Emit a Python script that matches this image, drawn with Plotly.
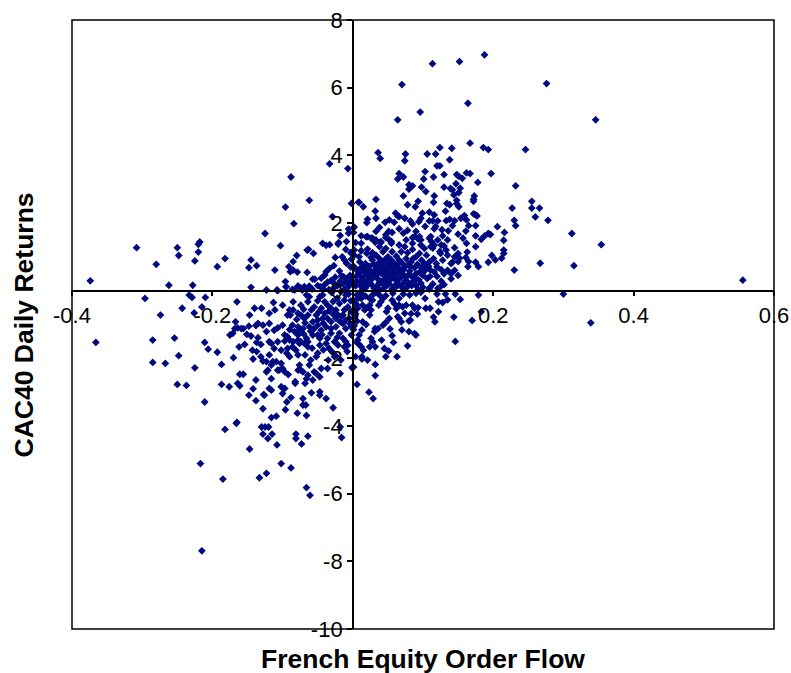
import plotly.graph_objects as go

x_label = "French Equity Order Flow"
y_label = "CAC40 Daily Returns"
x_ticks = [-0.4, -0.2, 0, 0.2, 0.4, 0.6]
y_ticks = [-10, -8, -6, -4, -2, 0, 2, 4, 6, 8]

upper_left = [(-.374,.29),(-.308,1.27),(-.28,.78),(-.262,.16),(-.25,1.27),(-.248,1.04),(-.228,.16),(-.225,.88),(-.22,1.14),(-.22,1.37),(-.218,1.44),(-.193,.71),(-.182,.95),(-.148,.68),(-.145,.91),(-.137,.74),(-.145,.10),(-.125,1.69),(-.123,.02),(-.111,.61),(-.107,0),(-.103,1.33),(-.096,2.47),(-.088,3.36),(-.084,1.98),(-.08,1.04),(-.091,.71),(-.085,.86),(-.089,.56),(-.085,.61),(-.079,.55),(-.096,.27),(-.095,.12),(-.065,.54),(-.062,2.67),(-.033,3.75),(-.007,3.61),(-.002,2.58),(.008,2.61),(-.029,2.19),(-.006,1.82),(-.006,1.7),(-.018,1.63),(-.043,1.4),(-.038,1.34),(-.033,1.36),(-.02,1.42),(-.021,1.38),(-.009,1.45),(-.01,1.22),(-.063,1.22),(-.065,1.2),(-.056,1.1),(-.025,.98),(-.015,1.0),(-.012,.91),(-.009,.81),(-.027,.74),(-.033,.66),(-.038,.56),(-.04,.46),(-.045,.37),(-.019,.58),(-.013,.41),(-.057,.34),(-.054,.34),(-.078,.14),(-.074,.08),(-.069,.12),(-.062,.13),(-.058,.05),(-.05,.15),(-.046,.11),(-.04,.18),(-.036,.25),(-.031,.3),(-.027,.22),(-.022,.14),(-.018,.28),(-.014,.2),(-.01,.36),(-.006,.12),(-.004,.45),(-.003,.7),(-.002,.93),(-.003,1.12),(-.028,.06),(-.034,.03),(-.012,.03),(-.009,.24),(-.016,.44),(-.025,.4),(-.001,.22),(-.002,.3),(-.086,.04),(-.072,.02),(-.066,.05),(-.042,.05)]

upper_right = [(.1876,6.97),(.152,6.77),(.1135,6.71),(.07,6.09),(.276,6.12),(.164,5.54),(.096,5.28),(.064,5.05),(.346,5.05),(.167,4.36),(.186,4.23),(.193,4.17),(.246,4.17),(.124,4.23),(.141,4.21),(.106,4.04),(.118,4.04),(.075,4.04),(.036,4.08),(.039,3.91),(.074,3.84),(.138,3.87),(.12,3.69),(.124,3.69),(.103,3.52),(.066,3.46),(.072,3.36),(.064,3.3),(.115,3.36),(.101,3.3),(.13,3.43),(.148,3.43),(.151,3.38),(.156,3.32),(.162,3.48),(.167,3.46),(.197,3.46),(.178,3.2),(.232,3.1),(.147,3.16),(.08,3.13),(.085,3.1),(.08,3.0),(.098,3.06),(.104,2.93),(.13,3.06),(.139,3.02),(.142,2.98),(.153,3.03),(.151,2.9),(.144,2.83),(.072,2.8),(.116,2.8),(.173,2.8),(.172,2.7),(.172,2.64),(.033,2.7),(.009,2.61),(.015,2.48),(.078,2.54),(.089,2.48),(.093,2.64),(.115,2.61),(.134,2.58),(.138,2.54),(.148,2.67),(.148,2.57),(.151,2.48),(.227,2.44),(.255,2.64),(.255,2.44),(.266,2.44),(.26,2.18),(.278,2.08),(.23,2.08),(.232,1.92),(.312,1.69),(.354,1.36),(.267,.81),(.315,.74),(.23,.61),(.206,1.89),(.216,1.72),(.215,1.49),(.215,1.2),(.215,1.1),(.212,.96),(.203,.91),(.198,1.04),(.193,.84),(.196,1.66),(.193,1.69),(.188,1.62),(.183,1.52),(.175,1.92),(.175,2.24),(.172,2.27),(.177,2.21),(.161,1.76),(.157,1.55),(.162,1.4),(.175,1.62),(.175,1.3),(.163,1.14),(.161,.98),(.165,.86),(.164,.71),(.175,.84),(.179,.71),(.15,1.67),(.165,1.92),(.162,2.09),(.159,2.22),(.154,2.14),(.142,1.92),(.145,2.07),(.138,2.11),(.133,2.07),(.132,2.35),(.136,1.77),(.127,1.8),(.128,1.62),(.135,1.5),(.145,1.27),(.15,1.1),(.145,1),(.152,.96),(.15,.86),(.142,.84),(.118,1.9),(.116,1.83),(.103,1.9),(.109,2.06),(.114,2.06),(.121,2.06),(.116,2.24),(.109,2.32),(.099,2.29),(.097,2.14),(.094,2.04),(.082,2.06),(.085,1.97),(.074,2.14),(.066,2.19),(.061,2.29),(.064,2.21),(.059,2.02),(.052,2.09),(.046,2.02),(.033,2.14),(.032,2.35),(.021,2.11),(.02,2.01),(.038,1.87),(.033,1.75),(.066,1.83),(.078,1.78),(.072,1.7),(.09,1.75),(.095,1.6),(.088,1.6),(.056,1.72),(.051,1.75),(.047,1.65),(.012,1.62),(.021,1.6),(.028,1.55),(.032,1.43),(.04,1.42),(.052,1.5),(.055,1.4),(.076,1.5),(.085,1.4),(.097,1.5),(.109,1.55),(.112,1.45),(.116,1.35),(.13,1.32),(.133,1.2),(.124,1.16),(.114,1.26),(.5556,.31)]

dense_right = [(.012,1.4),(.019,1.59),(.026,1.55),(.033,1.5),(.04,1.45),(.047,1.57),(.055,1.45),(.085,1.57),(.093,1.53),(.111,1.6),(.121,1.5),(.002,1.05),(.009,1.0),(.021,1.23),(.028,.9),(.038,1.3),(.043,1.15),(.047,1.25),(.066,1.35),(.074,1.3),(.069,1.15),(.097,1.35),(.102,1.25),(.111,1.3),(.126,1.35),(.033,1.05),(.038,.95),(.043,.85),(.036,.8),(.05,1.0),(.055,.9),(.059,.8),(.066,.9),(.076,.95),(.083,.85),(.09,1.0),(.095,1.1),(.102,.8),(.109,.85),(.119,.8),(.128,.9),(.002,.7),(.009,.62),(.016,.55),(.024,.72),(.031,.6),(.038,.7),(.045,.62),(.052,.73),(.059,.55),(.066,.65),(.074,.7),(.081,.58),(.088,.68),(.095,.55),(.104,.65),(.116,.55),(.126,.62),(.005,.42),(.012,.3),(.019,.45),(.026,.32),(.033,.44),(.04,.28),(.047,.4),(.055,.46),(.062,.3),(.069,.42),(.076,.3),(.083,.44),(.09,.34),(.097,.22),(.106,.36),(.114,.2),(.126,.28),(.004,.14),(.014,.05),(.021,.17),(.03,.08),(.038,.02),(.048,.14),(.056,.05),(.065,.17),(.075,.06),(.084,.15),(.093,.04),(.03,.5),(.04,.52),(.05,.5),(.06,.48),(.035,.36),(.045,.32),(.055,.36),(.07,.55),(.08,.48),(.025,.58),(.03,.78),(.04,.82),(.05,.78),(.06,.7),(.07,.82),(.015,.3),(.02,.25),(.01,.17),(.005,.28),(.018,.08),(.035,.15),(.042,.22),(.052,.2),(.06,.15),(.072,.22),(.08,.16),(.1,.45),(.09,.5),(.11,.42),(.12,.42),(.13,.5),(.135,.6),(.14,.5),(.12,.7),(.115,.95),(.125,1.1),(.135,1.05),(.14,.8),(.145,.6),(.15,.45),(.14,.35),(.13,.18),(.125,.12),(.11,.1),(.1,.1),(.09,.15),(.002,1.88),(.001,1.72),(.004,1.42),(.002,1.2),(.012,1.18),(.02,1.1),(.028,1.12),(.01,.85),(.018,.8),(.078,1.12),(.062,1.02),(.085,1.22),(.105,1.05),(.056,1.15),(.026,.98),(.014,.72),(.046,.92),(.072,.46),(.086,.28),(.102,.58),(.028,.42),(.036,.56),(.044,.46),(.052,.58),(.058,.4),(.064,.52),(.076,.4),(.082,.72),(.034,.66),(.048,.7),(.056,.62),(.064,.78),(.072,.62),(.08,.8),(.092,.78),(.098,.68),(.024,.36),(.038,.24),(.05,.28),(.066,.34),(.078,.24),(.088,.4),(.094,.32),(.016,.15),(.026,.2),(.044,.08),(.06,.08),(.07,.1),(.008,.5),(.012,.4),(.006,.6),(.018,.62),(.022,.5),(.042,.72),(.054,.82),(.086,.95),(.098,.9),(.108,.72),(.11,.62)]

lower_right = [(.30,-.10),(.339,-.95),(.146,-.10),(.153,-.26),(.179,-.13),(.183,-.62),(.17,-.88),(.144,-.78),(.146,-1.5),(.132,-.10),(.12,-.1),(.121,.07),(.135,-.27),(.128,-.35),(.122,-.33),(.122,-.62),(.115,-.78),(.117,-.92),(.103,-.23),(.093,-.5),(.104,-.52),(.11,-.52),(.092,-.69),(.083,-.68),(.082,-.87),(.08,-.9),(.07,-1.16),(.08,-1.21),(.088,-1.27),(.09,-1.31),(.078,-1.63),(.063,-1.95),(.047,-1.95),(.051,-1.78),(.045,-1.71),(.058,-1.53),(.056,-1.33),(.053,-1.13),(.041,-1.46),(.032,-1.12),(.036,-1.12),(.031,-1.21),(.043,-1.02),(.047,-.94),(.026,-1.41),(.028,-1.51),(.032,-1.66),(.024,-1.66),(.015,-1.76),(.013,-1.95),(.013,-2.02),(.004,-1.95),(.021,-2.05),(.032,-2.18),(.032,-2.51),(.001,-2.26),(-.001,-2.28),(.006,-2.77),(.023,-3.0),(.029,-3.19),(.009,-1.31),(.007,-1.46),(.009,-1.59),(.012,-1.66),(.006,-1.53),(.002,-1.04),(.014,-.92),(.013,-1.16),(.019,-1.0),(.066,-.82),(.069,-.92),(.064,-.77),(.074,-.67),(.052,-.82),(.062,-.53),(.071,-.48),(.05,-.52),(.048,-.62),(.076,-.43),(.085,-.43),(.088,-.52),(.066,-.23),(.056,-.28),(.04,-.33),(.028,-.28),(.024,-.23),(.014,-.43),(.012,-.23),(.024,-.72),(.017,-.57),(.007,-.52),(.002,-.57),(.047,-.15),(.038,-.13),(.057,-.08),(.081,-.13),(.09,-.08),(.097,-.05),(.109,.05),(.026,-.57),(.019,-.52),(.024,-.43),(.037,-.43),(.043,-.23),(.028,-.13),(.066,-.43),(.059,-.38),(.006,-.12),(.012,-.08),(.018,-.16),(.033,-.06),(.072,-.1),(.002,-.3),(.005,-.4),(.008,-.22),(.003,-.75),(.006,-.9),(.001,-1.15),(.004,-.68)]

lower_left = [(-.366,-1.53),(-.296,-.23),(-.274,-.72),(-.285,-1.46),(-.254,-1.4),(-.285,-2.12),(-.267,-2.15),(-.248,-1.92),(-.225,-2.28),(-.25,-2.77),(-.237,-2.8),(-.243,-.52),(-.233,-.13),(-.229,-.2),(-.21,-.2),(-.226,-.66),(-.215,-.48),(-.211,-1.53),(-.206,-1.73),(-.193,-1.82),(-.187,-2.18),(-.17,-1.98),(-.187,-2.77),(-.176,-2.84),(-.211,-3.29),(-.165,-.33),(-.167,-.92),(-.14,-.52),(-.13,-.52),(-.147,-.72),(-.168,-1.12),(-.164,-1.1),(-.159,-1.12),(-.156,-1.12),(-.171,-1.26),(-.175,-1.31),(-.148,-1.05),(-.138,-1.03),(-.135,-.97),(-.128,-1.02),(-.151,-1.29),(-.145,-1.34),(-.154,-1.59),(-.162,-1.66),(-.135,-1.39),(-.137,-1.53),(-.131,-1.59),(-.143,-1.76),(-.137,-1.8),(-.131,-1.95),(-.142,-2.02),(-.128,-2.08),(-.161,-2.47),(-.156,-2.47),(-.164,-2.74),(-.161,-2.81),(-.138,-2.64),(-.142,-2.9),(-.148,-3.09),(-.138,-3.25),(-.127,-3.07),(-.128,-3.49),(-.116,-3.75),(-.109,-3.71),(-.096,-3.52),(-.094,-3.29),(-.079,-3.62),(-.066,-3.69),(-.071,-3.38),(-.067,-3.38),(-.028,-3.46),(-.018,-4.03),(-.016,-4.34),(-.166,-3.92),(-.165,-3.89),(-.182,-4.1),(-.13,-4.03),(-.125,-4.03),(-.12,-4.03),(-.128,-4.24),(-.115,-4.24),(-.121,-4.37),(-.108,-4.56),(-.081,-4.24),(-.081,-4.37),(-.064,-4.3),(-.073,-4.53),(-.147,-4.68),(-.217,-5.11),(-.185,-5.57),(-.133,-5.53),(-.123,-5.4),(-.102,-5.11),(-.088,-5.24),(-.066,-5.82),(-.061,-6.05),(-.215,-7.69),(-.017,-2.05),(-.018,-2.45),(0,-2.25),(-.024,-1.93)]

dense_left = [(-.108,.02),(-.083,.02),(-.095,.11),(-.113,-.35),(-.1,-.43),(-.085,-.33),(-.111,-.57),(-.119,-.67),(-.066,-.13),(-.062,-.18),(-.064,-.33),(-.09,-.57),(-.085,-.57),(-.089,-.72),(-.093,-.72),(-.074,-.43),(-.078,-.67),(-.074,-.72),(-.055,-.48),(-.059,-.57),(-.064,-.72),(-.069,-.82),(-.052,-.72),(-.047,-.18),(-.043,-.13),(-.04,-.33),(-.036,-.43),(-.045,-.52),(-.031,-.52),(-.024,-.57),(-.019,-.38),(-.012,-.28),(-.01,-.13),(-.017,-.03),(-.04,-.67),(-.043,-.82),(-.05,-.87),(-.057,-.92),(-.036,-.82),(-.031,-.92),(-.024,-.82),(-.021,-.72),(-.014,-.72),(-.01,-.87),(-.005,-.82),(-.012,-.57),(-.119,-.97),(-.1,-1.02),(-.107,-1.1),(-.112,-1.17),(-.123,-1.21),(-.078,-1.07),(-.071,-1.12),(-.083,-1.21),(-.076,-1.17),(-.062,-1.07),(-.055,-1.12),(-.05,-1.02),(-.045,-1.17),(-.038,-1.07),(-.031,-1.12),(-.024,-1.07),(-.019,-1.26),(-.01,-1.12),(-.014,-.97),(-.002,-1.07),(-.002,-1.31),(-.097,-1.31),(-.093,-1.36),(-.09,-1.46),(-.097,-1.49),(-.085,-1.51),(-.078,-1.46),(-.074,-1.51),(-.078,-1.31),(-.066,-1.41),(-.057,-1.31),(-.05,-1.31),(-.047,-1.41),(-.036,-1.41),(-.031,-1.26),(-.026,-1.51),(-.014,-1.41),(-.01,-1.51),(-.119,-1.51),(-.116,-1.56),(-.107,-1.51),(-.112,-1.71),(-.102,-1.76),(-.093,-1.71),(-.094,-1.85),(-.09,-1.95),(-.078,-1.9),(-.081,-1.76),(-.076,-1.56),(-.069,-1.56),(-.064,-1.66),(-.064,-1.51),(-.05,-1.85),(-.052,-1.95),(-.047,-1.61),(-.038,-1.56),(-.021,-1.61),(-.012,-1.66),(-.007,-1.61),(-.119,-1.9),(-.123,-2.1),(-.114,-2.1),(-.109,-2.1),(-.116,-2.2),(-.121,-2.35),(-.123,-2.4),(-.102,-2.15),(-.107,-2.35),(-.105,-2.35),(-.1,-2.3),(-.097,-2.4),(-.092,-2.48),(-.076,-2.2),(-.074,-2.35),(-.071,-2.4),(-.078,-2.35),(-.062,-2.2),(-.045,-2.3),(-.036,-2.3),(-.055,-2.4),(-.052,-2.45),(-.064,-2.5),(-.066,-2.6),(-.057,-2.64),(-.068,-2.74),(-.047,-2.55),(-.082,-2.69),(-.082,-2.74),(-.116,-2.6),(-.102,-2.84),(-.097,-2.89),(-.1,-3.04),(-.119,-2.89),(-.116,-2.94),(-.126,-3.09),(-.059,-3.02),(-.047,-2.99),(-.047,-3.09),(-.038,-3.19),(-.088,-3.16),(-.071,-3.19),(-.03,-.06),(-.022,-.22),(-.006,-.1),(-.003,-.3),(-.007,-.48),(-.002,-.62),(-.016,-.75),(-.004,-.98),(-.028,-.32),(-.05,-.3),(-.008,-1.8),(-.03,-1.8),(-.026,-1.95),(-.035,-2.05),(-.06,-2.05),(-.068,-1.9),(-.042,-1.75),(-.07,-.55),(-.08,-.85),(-.068,-.95),(-.048,-.62),(-.034,-.6),(-.028,-.7),(-.018,-.92),(-.042,-.96),(-.086,-1.02),(-.09,-1.15),(-.07,-1.28),(-.06,-1.2),(-.044,-1.3),(-.022,-1.38),(-.086,-1.66),(-.058,-1.7),(-.034,-1.7)]

points = upper_left + upper_right + dense_right + lower_right + lower_left + dense_left
order_flow = [p[0] for p in points]
cac40_returns = [p[1] for p in points]

NAVY = "#000a80"
FONT = "Liberation Sans, Arial, sans-serif"

fig = go.Figure(go.Scatter(
    x=order_flow, y=cac40_returns, mode="markers", cliponaxis=False,
    marker=dict(symbol="diamond", size=6, color=NAVY, line=dict(width=0)),
))

fig.update_layout(
    width=791, height=673, autosize=False,
    margin=dict(l=72, r=17, t=20, b=44, pad=0, autoexpand=False),
    paper_bgcolor="white", plot_bgcolor="white",
    showlegend=False,
    font=dict(family=FONT, size=22, color="black"),
    shapes=[dict(type="rect", xref="paper", yref="paper", x0=0, x1=1, y0=0, y1=1,
                 line=dict(color="black", width=1.5), fillcolor="rgba(0,0,0,0)", layer="below")],
    annotations=[
        dict(text=f"<b>{x_label}</b>", xref="paper", yref="paper", x=0.5, y=-0.05,
             yanchor="middle", xanchor="center", showarrow=False, font=dict(family=FONT, size=26.5)),
        dict(text=f"<b>{y_label}</b>", xref="paper", yref="paper", x=-0.0684, y=0.5,
             xanchor="center", yanchor="middle", textangle=-90, showarrow=False, font=dict(family=FONT, size=26.5)),
    ],
)
fig.update_xaxes(
    range=[-0.4, 0.6], tickmode="array", tickvals=x_ticks, ticktext=[f"{v:g}" for v in x_ticks],
    showgrid=False, zeroline=False, showline=True, linecolor="black", linewidth=1.5, automargin=False,
    ticks="outside", ticklen=5, tickcolor="black", tickwidth=1.5, ticklabeloverflow="allow",
    anchor="free", position=10/18,
)
fig.update_yaxes(
    range=[-10, 8], tickmode="array", tickvals=y_ticks, ticktext=[f"{v:g}" for v in y_ticks],
    showgrid=False, zeroline=False, showline=True, linecolor="black", linewidth=1.5, automargin=False,
    ticks="outside", ticklen=5, tickcolor="black", tickwidth=1.5, ticklabeloverflow="allow",
    anchor="free", position=0.4,
)
fig.write_html("out.html", config={"displayModeBar": False}, post_script="document.documentElement.style.overflow='hidden';document.body.style.overflow='hidden';document.body.style.margin='0';")
